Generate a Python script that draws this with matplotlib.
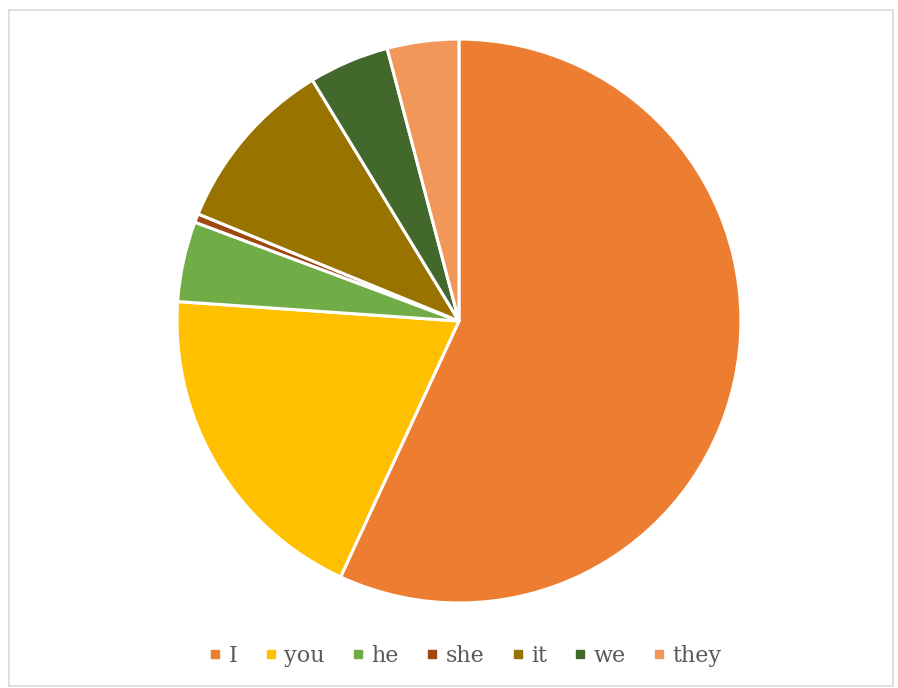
import matplotlib
matplotlib.use('Agg')
import matplotlib.pyplot as plt
from matplotlib.lines import Line2D
from matplotlib.patches import Rectangle

labels = ['I', 'you', 'he', 'she', 'it', 'we', 'they']
shares = [56.9, 19.2, 4.6, 0.5, 10.1, 4.6, 4.1]
colors = ['#ED7D31', '#FFC000', '#70AD47', '#9E480E', '#997300', '#43682B', '#F1975A']

fig = plt.figure(figsize=(8.98, 6.88), dpi=100)

# light chart-area border
fig.patches.append(Rectangle((9 / 898, 2 / 688), 884 / 898, 676 / 688,
                             transform=fig.transFigure, fill=False,
                             edgecolor='#d9d9d9', linewidth=1.2))

ax = fig.add_axes([0.1971, 0.1235, 0.628, 0.8198])
ax.pie(shares, colors=colors, startangle=90, counterclock=False,
       radius=1.0, wedgeprops=dict(edgecolor='white', linewidth=2.2))
ax.set_xlim(-1, 1)
ax.set_ylim(-1, 1)
ax.set_aspect('equal')
ax.axis('off')

handles = [Line2D([], [], marker='s', linestyle='none', markersize=6,
                  markerfacecolor=c, markeredgecolor=c) for c in colors]
fig.legend(handles, labels, loc='center', bbox_to_anchor=(464 / 898, 1 - 656 / 688),
           ncol=7, frameon=False, handletextpad=0.2, columnspacing=1.1,
           handlelength=0.8, prop=dict(family='DejaVu Serif', size=16),
           labelcolor='#595959')

fig.savefig('out.png', dpi=100)
